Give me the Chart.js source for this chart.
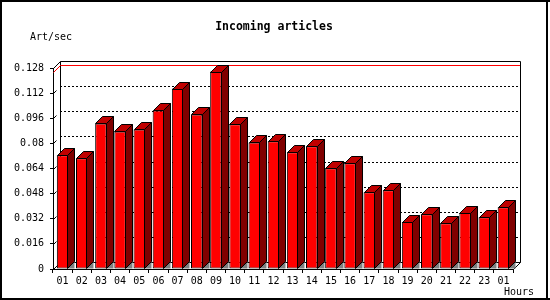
<!DOCTYPE html>
<html>
<head>
<meta charset="utf-8">
<script src="https://cdn.jsdelivr.net/npm/chart.js@4/dist/chart.umd.min.js"></script>
<style>
  html, body { margin: 0; padding: 0; background: #fff; }
  canvas { display: block; }
</style>
</head>
<body>
<canvas id="c" width="550" height="300"></canvas>
<script>
const hours = ['01','02','03','04','05','06','07','08','09','10','11','12',
               '13','14','15','16','17','18','19','20','21','22','23','01'];
const articlesPerSec = [0.0724, 0.0705, 0.0927, 0.0876, 0.0889, 0.1010, 0.1149, 0.0984,
                        0.1257, 0.0921, 0.0806, 0.0813, 0.0743, 0.0781, 0.0641, 0.0673,
                        0.0489, 0.0502, 0.0300, 0.0349, 0.0292, 0.0357, 0.0330, 0.0394];
const yTickLabels = ['0','0.016','0.032','0.048','0.064','0.08','0.096','0.112','0.128'];
const chartTitle = 'Incoming articles';
const yUnit = 'Art/sec';
const xUnit = 'Hours';

const DX = 7, DY = 7;
const MONO = '"DejaVu Sans Mono", "Liberation Mono", monospace';

const threeD = {
  id: 'threeD',
  beforeDraw(chart) {
    const ctx = chart.ctx;
    ctx.save();
    ctx.fillStyle = '#fff';
    ctx.fillRect(0, 0, chart.width, chart.height);
    ctx.restore();
  },
  beforeDatasetsDraw(chart) {
    const ctx = chart.ctx;
    const { left, right, top, bottom } = chart.chartArea;
    const ys = chart.scales.y;
    ctx.save();
    ctx.lineWidth = 1;
    // dotted grid on back plane
    ctx.strokeStyle = '#000';
    ctx.setLineDash([2, 2]);
    ys.ticks.forEach(t => {
      if (t.value <= ys.min + 1e-9 || t.value >= ys.max - 1e-9) return;
      const y = Math.round(ys.getPixelForValue(t.value) - DY) + 0.5;
      ctx.beginPath();
      ctx.moveTo(left + DX, y);
      ctx.lineTo(right + DX, y);
      ctx.stroke();
    });
    ctx.setLineDash([]);
    // back frame
    ctx.beginPath();
    ctx.rect(Math.round(left + DX) + 0.5, Math.round(top - DY) + 0.5,
             Math.round(right - left), Math.round(bottom - top));
    ctx.stroke();
    // corner diagonals
    ctx.beginPath();
    ctx.moveTo(left + 0.5, top + 0.5); ctx.lineTo(left + DX + 0.5, top - DY + 0.5);
    ctx.moveTo(right + 0.5, bottom + 0.5); ctx.lineTo(right + DX + 0.5, bottom - DY + 0.5);
    ctx.moveTo(left + 0.5, bottom + 0.5); ctx.lineTo(left + DX + 0.5, bottom - DY + 0.5);
    ctx.stroke();
    // small diagonal ticks from the front axis
    ys.ticks.forEach(t => {
      const y = Math.round(ys.getPixelForValue(t.value)) + 0.5;
      ctx.beginPath();
      ctx.moveTo(left + 0.5, y);
      ctx.lineTo(left + 3.5, y - 3);
      ctx.stroke();
    });
    // max value line (red)
    const maxV = Math.max(...chart.data.datasets[0].data);
    const ym = Math.round(ys.getPixelForValue(maxV)) + 0.5;
    ctx.strokeStyle = '#ff0000';
    ctx.beginPath();
    ctx.moveTo(left + 0.5, ym + 0);
    ctx.lineTo(left + DX + 0.5, ym - DY);
    ctx.lineTo(right + DX, ym - DY);
    ctx.stroke();
    ctx.restore();
  },
  afterDatasetsDraw(chart) {
    const ctx = chart.ctx;
    const meta = chart.getDatasetMeta(0);
    ctx.save();
    ctx.lineWidth = 1;
    ctx.strokeStyle = '#000';
    meta.data.forEach(bar => {
      const p = bar.getProps(['x', 'y', 'base', 'width'], true);
      const l = Math.round(p.x - p.width / 2) + 0.5;
      const r = Math.round(p.x + p.width / 2) - 0.5;
      const y = Math.round(p.y) + 0.5;
      const b = Math.round(p.base) - 0.5;
      // top face
      ctx.beginPath();
      ctx.moveTo(l, y); ctx.lineTo(l + DX, y - DY); ctx.lineTo(r + DX, y - DY); ctx.lineTo(r, y);
      ctx.closePath();
      ctx.fillStyle = '#c00000';
      ctx.fill(); ctx.stroke();
      // floor shadow
      ctx.beginPath();
      ctx.moveTo(r, b); ctx.lineTo(r + DX, b - DY); ctx.lineTo(r + DX, b); ctx.closePath();
      ctx.fillStyle = '#808080';
      ctx.fill();
      // side face
      ctx.beginPath();
      ctx.moveTo(r, y); ctx.lineTo(r + DX, y - DY); ctx.lineTo(r + DX, b - DY); ctx.lineTo(r, b);
      ctx.closePath();
      ctx.fillStyle = '#800000';
      ctx.fill(); ctx.stroke();
    });
    ctx.restore();
  },
  afterDraw(chart) {
    const ctx = chart.ctx;
    ctx.save();
    ctx.fillStyle = '#000';
    ctx.textBaseline = 'middle';
    ctx.font = 'bold 11.5px ' + MONO;
    ctx.textAlign = 'center';
    ctx.fillText(chartTitle, 274, 27);
    ctx.font = '10px ' + MONO;
    ctx.textAlign = 'left';
    ctx.fillText(yUnit, 30, 37);
    ctx.fillText(xUnit, 504, 292);
    // outer border
    ctx.fillRect(0, 0, 550, 2);
    ctx.fillRect(0, 0, 2, 300);
    ctx.fillRect(546, 0, 2, 300);
    ctx.fillRect(0, 298, 550, 2);
    ctx.restore();
  }
};

new Chart(document.getElementById('c'), {
  type: 'bar',
  data: {
    labels: hours,
    datasets: [{
      data: articlesPerSec,
      backgroundColor: '#ff0000',
      borderColor: '#000',
      borderWidth: 1,
      borderSkipped: false,
      barPercentage: 0.6,
      categoryPercentage: 1.0
    }]
  },
  options: {
    responsive: false,
    animation: false,
    devicePixelRatio: 1,
    layout: { padding: { top: 68, right: 37, left: 0, bottom: 0 } },
    plugins: { legend: { display: false }, tooltip: { enabled: false }, title: { display: false } },
    scales: {
      x: {
        grid: { display: true, drawOnChartArea: false, drawTicks: true, tickLength: 4, color: '#000', offset: true },
        border: { display: true, color: '#000' },
        ticks: { color: '#000', font: { family: MONO, size: 10 }, padding: 2, maxRotation: 0, autoSkip: false },
        afterFit: s => { s.height = 31; }
      },
      y: {
        min: 0,
        max: 0.128,
        grid: { display: true, drawOnChartArea: false, drawTicks: true, tickLength: 3, color: '#000' },
        border: { display: true, color: '#000' },
        ticks: {
          stepSize: 0.016,
          color: '#000',
          font: { family: MONO, size: 10 },
          padding: 6,
          callback: (v, i) => yTickLabels[i]
        },
        afterFit: s => { s.width = 53; }
      }
    }
  },
  plugins: [threeD]
});
</script>
</body>
</html>
